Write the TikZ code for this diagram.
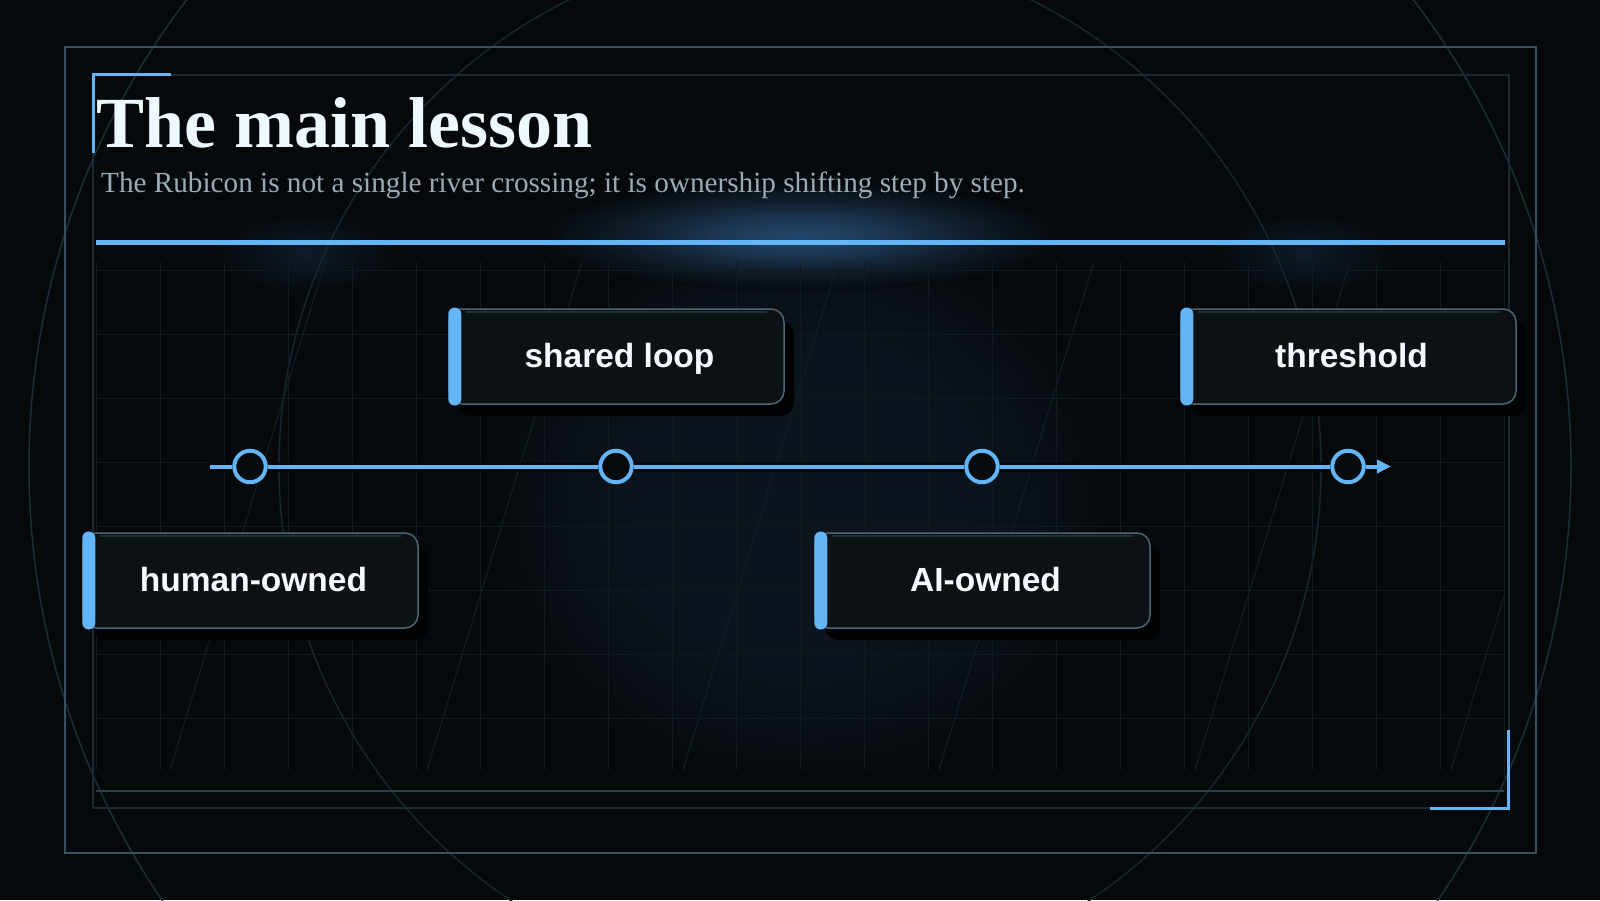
\documentclass[tikz,border=0pt]{standalone}
\usepackage{fontspec}
\setmainfont{Liberation Serif}
\newfontfamily\cardfamily{Liberation Sans}
\usetikzlibrary{arrows.meta,shadows}

\definecolor{bgc}{HTML}{05090C}
\definecolor{accent}{HTML}{64B5F6}
\definecolor{frameouter}{HTML}{37505B}
\definecolor{frameinner}{HTML}{1B2A31}
\definecolor{footerline}{HTML}{2B3F48}
\definecolor{gridc}{HTML}{0F1B21}
\definecolor{diagc}{HTML}{111F26}
\definecolor{ringouter}{HTML}{1B2E37}
\definecolor{ringinner}{HTML}{16262E}
\definecolor{titlec}{HTML}{EEF8FF}
\definecolor{subc}{HTML}{9AABB5}
\definecolor{cardfill}{HTML}{0B1115}
\definecolor{cardline}{HTML}{4E6671}
\definecolor{cardhl}{HTML}{20313A}
\definecolor{cardtext}{HTML}{F4FAFF}
\definecolor{shadowc}{HTML}{010203}
\definecolor{dotfill}{HTML}{060B10}
\definecolor{navyglow}{HTML}{0C141E}
\definecolor{blueglow}{HTML}{24466A}
\definecolor{sideglow}{HTML}{0E1C2A}

% the path's bounding box is mapped on the central 50bp square: the edge is at 25bp
\pgfdeclareradialshading{navyshade}{\pgfpointorigin}{color(0bp)=(navyglow); color(13bp)=(navyglow); color(19bp)=(navyglow!60!bgc); color(25bp)=(bgc); color(50bp)=(bgc)}
\pgfdeclareradialshading{blueshade}{\pgfpointorigin}{color(0bp)=(blueglow); color(8bp)=(blueglow!75!bgc); color(16bp)=(blueglow!35!bgc); color(25bp)=(bgc); color(50bp)=(bgc)}
\pgfdeclareradialshading{sideshade}{\pgfpointorigin}{color(0bp)=(sideglow); color(12bp)=(sideglow!50!bgc); color(25bp)=(bgc); color(50bp)=(bgc)}

\tikzset{
  gridline/.style={draw=gridc, line width=1pt},
  diagline/.style={draw=diagc, line width=1pt},
  dot/.style={circle, draw=accent, line width=4pt, fill=dotfill, inner sep=0pt, minimum size=31.5pt},
  timeline/.style={draw=accent, line width=4pt, -{Triangle[length=14pt,width=13pt]}},
  card/.style={draw=cardline, line width=1.5pt, fill=cardfill, rounded corners=13pt,
    minimum width=335pt, minimum height=95pt, inner sep=0pt, text height=24pt, text depth=3pt,
    font=\cardfamily\bfseries\fontsize{33.5}{40}\selectfont, text=cardtext,
    drop shadow={shadow xshift=10pt, shadow yshift=-12pt, fill=shadowc, opacity=0.95}},
  cardbar/.style={fill=accent, rounded corners=6.5pt},
  cardhighlight/.style={draw=cardhl, line width=2pt},
  corner/.style={draw=accent, line width=3pt},
}

\begin{document}
\begin{tikzpicture}[x=1pt,y=-1pt]
\useasboundingbox (0,0) rectangle (1600,900);
\fill[bgc] (0,0) rectangle (1600,900);

% glows
\shade[shading=navyshade] (800,505) ellipse [x radius=310, y radius=280];
\shade[shading=sideshade] (306,253) ellipse [x radius=90, y radius=40];
\shade[shading=sideshade] (1306,253) ellipse [x radius=90, y radius=40];
\shade[shading=blueshade] (800,236) ellipse [x radius=260, y radius=55];

% rings
\draw[ringouter, line width=1.5pt] (800,467) circle [radius=771];
\draw[ringinner, line width=1.5pt] (800,467) circle [radius=521];

% grid
\foreach \i in {0,...,22} \draw[gridline] ({96+64*\i},262) -- ({96+64*\i},770);
\foreach \j in {0,...,7} \draw[gridline] (96,{270+64*\j}) -- (1504,{270+64*\j});
\draw[gridline] (1504,262) -- (1504,791);
\begin{scope}
  \clip (96,262) rectangle (1504,770);
  \foreach \b in {-86,170,427,683,939,1195,1451} \draw[diagline] (\b,770) -- ({\b+155},262);
\end{scope}

% frames
\draw[frameouter, line width=2pt] (65,47) rectangle (1536,853);
\draw[frameinner, line width=2pt] (93,74.5) rectangle (1508.5,808);
\draw[footerline, line width=2pt] (96,791) -- (1504,791);
\draw[corner] (93,153) -- (93,74.5) -- (171,74.5);
\draw[corner] (1508.5,730) -- (1508.5,808) -- (1430,808);

% separator
\draw[accent, line width=5pt] (96,242.5) -- (1505,242.5);

% title
\node[anchor=base west, inner sep=0pt, text=titlec, font=\fontsize{72}{80}\selectfont\bfseries] (title) at (96,147) {The main lesson};
\node[anchor=base west, inner sep=0pt, text=subc, font=\fontsize{29.2}{34}\selectfont] (subtitle) at (101,192) {The Rubicon is not a single river crossing; it is ownership shifting step by step.};

% timeline
\coordinate (tstart) at (210,466.5);
\coordinate (tend) at (1391,466.5);
\draw[shadowc, line width=10pt, opacity=0.6] (tstart) -- (tend);
\node[dot] (d1) at (250,466.5) {};
\node[dot] (d2) at (616,466.5) {};
\node[dot] (d3) at (982,466.5) {};
\node[dot] (d4) at (1348,466.5) {};
\draw[timeline] (tstart) -- (d1) -- (d2) -- (d3) -- (d4) -- (tend);

% cards
\node[card] (human)  at (250.5,580.5)  {\hspace*{6pt}human-owned};
\node[card] (shared) at (616.5,356.5)  {\hspace*{6pt}shared loop};
\node[card] (aiown)  at (982.5,580.5)  {\hspace*{6pt}AI-owned};
\node[card] (thresh) at (1348.5,356.5) {\hspace*{6pt}threshold};
\foreach \n in {human,shared,aiown,thresh} {
  \fill[cardbar] ([yshift=0.75pt]\n.north west) rectangle ([xshift=13pt,yshift=-0.75pt]\n.south west);
  \draw[cardhighlight] ([xshift=18pt,yshift=-3.5pt]\n.north west) -- ([xshift=-18pt,yshift=-3.5pt]\n.north east);
}
\end{tikzpicture}
\end{document}
